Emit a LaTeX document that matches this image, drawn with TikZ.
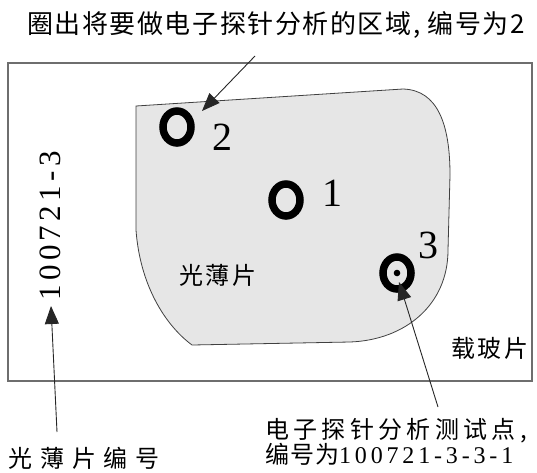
\documentclass[tikz,border=0pt]{standalone}
\usepackage{fontspec}
\setmainfont{Liberation Serif}
\newfontfamily\cjk{Noto Sans CJK SC}
\usetikzlibrary{arrows.meta,shapes.geometric}
\definecolor{secfill}{HTML}{E6E6E6}
\definecolor{framecol}{HTML}{6E6E6E}
\begin{document}
\begin{tikzpicture}[x=1pt,y=-1pt,
  frame/.style={draw=framecol,line width=1.3pt},
  section/.style={draw=black!75,fill=secfill,line width=0.8pt},
  ring/.style={draw=black,ellipse,line width=7.5pt,minimum width=28pt,minimum height=32pt,inner sep=0pt},
  ptr/.style={draw=black!85,line width=0.9pt,-{Triangle[length=18pt,width=14pt]}},
  num/.style={inner sep=0pt,font=\fontsize{40}{40}\selectfont},
  lbl/.style={inner sep=0pt,anchor=center}
]
\useasboundingbox (0,0) rectangle (537,472);
% slide
\draw[frame] (8,63) rectangle (532,381);
% thin section
\draw[section] (136,106) -- (403,89) .. controls (438,90) and (450,125) .. (450,175)
  -- (448,250) .. controls (448,305) and (405,340) .. (350,342)
  -- (192,345) .. controls (165,325) and (140,285) .. (136,230) -- cycle;
% rings
\node[ring] (c2) at (177,127) {};
\node[ring] (c1) at (286,200) {};
\node[ring] (c3) at (397,273) {};
\fill[black] (c3.center) circle (3.3pt);
\node[num] (n2) at (222,137) {2};
\node[num] (n1) at (332,193) {1};
\node[num] (n3) at (428,245) {3};
% texts
\node[lbl] (title) at (276,25) {\cjk\fontsize{26}{30}\selectfont\addfontfeatures{LetterSpace=6}圈出将要做电子探针分析的区域, 编号为2};
\node[lbl] (thin) at (218,275) {\cjk\fontsize{24}{28}\selectfont\addfontfeatures{LetterSpace=10}光薄片};
\node[lbl] (slide) at (490,348) {\cjk\fontsize{24}{28}\selectfont\addfontfeatures{LetterSpace=12}载玻片};
\node[lbl,rotate=90] (code) at (50,226) {\fontsize{31}{31}\selectfont\addfontfeatures{LetterSpace=14}100721-3};
\node[lbl,anchor=west] (codelbl) at (8,458) {\cjk\fontsize{24}{28}\selectfont\addfontfeatures{LetterSpace=33}光薄片编号};
\node[lbl,anchor=north west,align=left] (pt) at (265,418) {\cjk\fontsize{24}{28}\selectfont\addfontfeatures{LetterSpace=18}电子探针分析测试点,\\[-1pt]\cjk\fontsize{24}{28}\selectfont\addfontfeatures{LetterSpace=4}编号为{\rmfamily\fontsize{24}{28}\selectfont\addfontfeatures{LetterSpace=16}100721-3-3-1}};
% arrows
\coordinate (a2s) at (255,56);
\coordinate (a2e) at (202,111);
\coordinate (a1s) at (57,432);
\coordinate (a1e) at (51,306);
\coordinate (a3s) at (438,407);
\coordinate (a3e) at (399,282);
\draw[ptr] (a2s) -- (a2e);
\draw[ptr] (a1s) -- (a1e);
\draw[ptr] (a3s) -- (a3e);
\end{tikzpicture}
\end{document}
